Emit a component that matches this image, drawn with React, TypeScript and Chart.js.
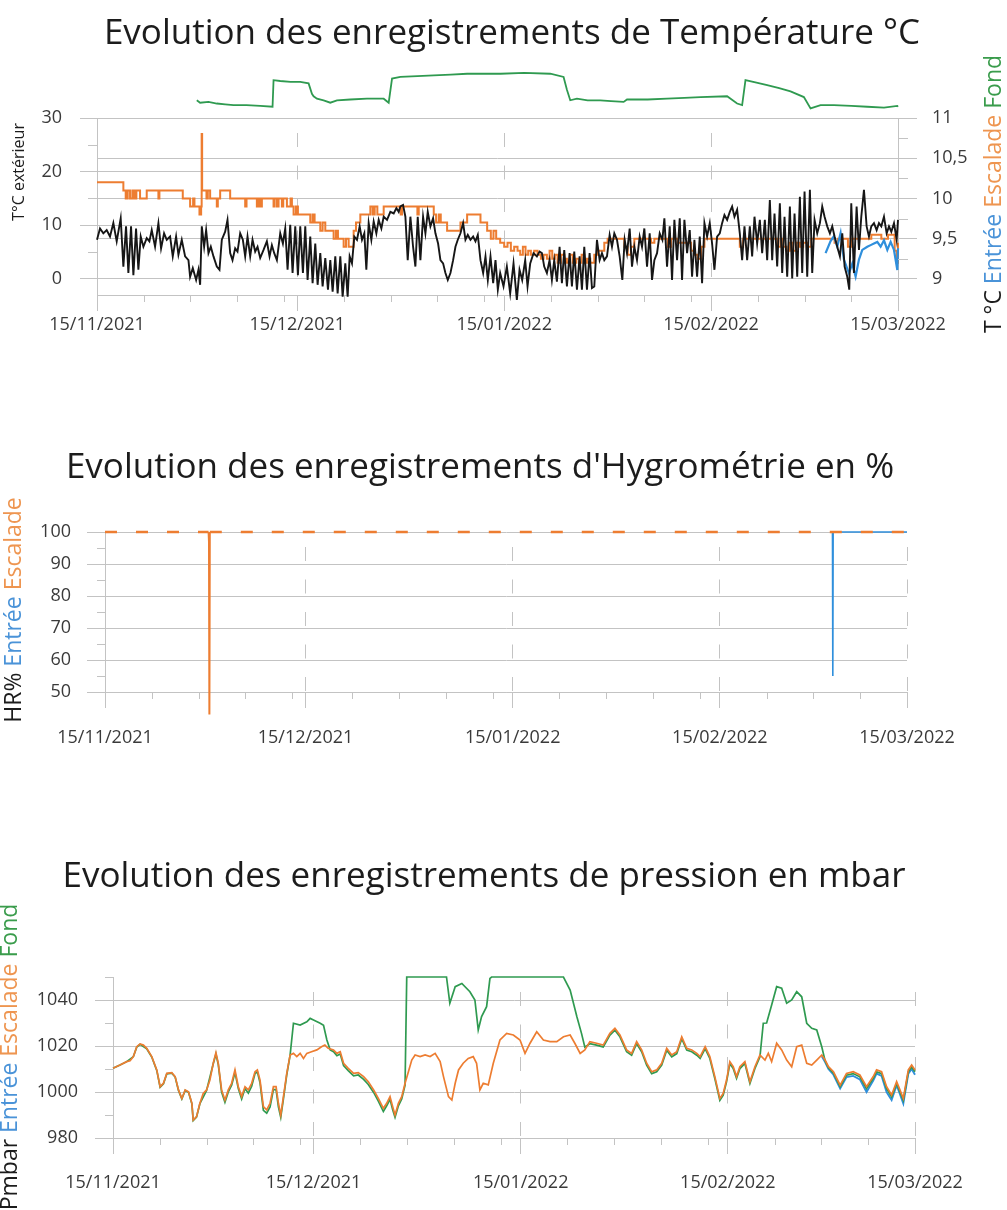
import React, { useEffect, useRef } from 'react';
import { Chart, registerables } from 'chart.js';

Chart.register(...registerables);

// ---------- shared axis data ----------
const MAJOR_DAYS = [0, 30, 61, 92, 120];
const MAJOR_LABELS = ['15/11/2021', '15/12/2021', '15/01/2022', '15/02/2022', '15/03/2022'];
const MINOR_DAYS = [7, 14, 21, 28, 37, 44, 51, 58, 68, 75, 82, 89, 99, 106, 113];

// ---------- temperature ----------
const T_LEFT_TICKS = [0, 10, 20, 30];
const T_LEFT_MINOR = [5, 15, 25];
const T_RIGHT_TICKS = [9, 9.5, 10, 10.5, 11];
const T_RIGHT_MINOR = [9.25, 9.75, 10.25, 10.75];

const tExterieur = [
  [0, 7.3], [0.45, 9.4], [0.95, 8.5], [1.45, 9.1], [1.95, 7.9], [2.45, 10.4], [2.95, 7.0], [3.55, 11.3], [3.95, 2.3],
  [4.35, 9.8], [4.7, 1.1], [5.1, 9.8], [5.45, 0.7], [5.85, 9.4], [6.2, 1.7], [6.55, 7.9], [6.95, 6.0], [7.45, 7.6],
  [7.85, 7.0], [8.2, 9.1], [8.7, 6.0], [9.2, 10.4], [9.6, 5.7], [10.05, 8.5], [10.45, 7.3], [10.95, 7.9], [11.35, 4.2],
  [11.85, 7.9], [12.2, 4.5], [12.7, 7.3], [13.2, 4.2], [13.7, 3.5], [13.95, 0.4], [14.35, 2.0], [14.85, -0.2], [15.2, 1.7],
  [15.45, -1.1], [15.7, 9.8], [16.05, 6.0], [16.35, 9.1], [16.7, 4.8], [17.05, 6.0], [17.45, 4.2], [17.95, 2.3], [18.35, 1.7],
  [18.7, 7.3], [19.2, 8.8], [19.55, 11.0], [19.95, 4.8], [20.3, 3.5], [20.7, 5.7], [21.05, 5.1], [21.45, 8.5], [21.85, 7.3],
  [22.2, 4.2], [22.55, 7.9], [22.95, 4.2], [23.3, 7.3], [23.7, 5.1], [24.05, 6.0], [24.45, 3.9], [24.95, 5.4], [25.45, 7.0],
  [25.85, 4.2], [26.2, 6.3], [26.55, 4.8], [26.95, 3.5], [27.45, 8.5], [27.85, 6.6], [28.2, 9.4], [28.55, 1.7], [28.95, 10.1],
  [29.3, 1.1], [29.7, 9.8], [30.1, 0.7], [30.45, 9.8], [30.85, 1.1], [31.2, 9.8], [31.55, -0.2], [31.95, 7.9], [32.3, -0.8],
  [32.7, 6.6], [33.05, -1.1], [33.45, 4.8], [33.8, -1.4], [34.2, 3.9], [34.6, -2.0], [34.95, 3.5], [35.3, -2.4], [35.7, 4.2],
  [36.05, -2.7], [36.45, 4.2], [36.8, -3.3], [37.2, 2.9], [37.55, -3.3], [37.85, 4.2], [38.2, 2.9], [38.55, 7.9], [38.95, 7.3],
  [39.35, 9.8], [39.7, 7.3], [40.05, 8.5], [40.35, 1.7], [40.7, 10.4], [41.1, 7.3], [41.45, 10.7], [41.85, 8.5], [42.2, 11.0],
  [42.6, 9.4], [42.95, 11.6], [43.45, 11.0], [43.95, 12.5], [44.45, 12.2], [44.85, 13.2], [45.2, 12.5], [45.45, 13.5],
  [45.85, 13.8], [46.2, 11.6], [46.55, 3.5], [46.95, 11.6], [47.35, 6.0], [47.7, 2.3], [48.05, 11.6], [48.45, 3.5],
  [48.85, 11.6], [49.2, 8.5], [49.55, 12.5], [49.95, 9.8], [50.35, 11.3], [50.7, 8.5], [51.1, 6.6], [51.45, 3.5], [51.85, 2.9],
  [52.2, 1.1], [52.55, -0.2], [52.95, 1.1], [53.35, 3.5], [53.7, 6.0], [54.05, 7.3], [54.45, 8.5], [54.85, 10.4], [55.2, 7.3],
  [55.55, 8.2], [55.95, 7.3], [56.35, 7.9], [56.7, 7.0], [57.05, 8.2], [57.45, 3.5], [57.85, 1.1], [58.2, 4.2], [58.55, -0.2],
  [58.95, 4.2], [59.35, -0.8], [59.7, 3.5], [60.05, -2.0], [60.4, 1.1], [60.9, -1.4], [61.4, 2.3], [61.9, -2.7], [62.4, 2.9],
  [62.9, -3.9], [63.3, 1.7], [63.7, -0.2], [64.15, 3.5], [64.5, -1.4], [64.9, 2.9], [65.4, 4.8], [65.9, 4.2], [66.3, 5.1],
  [66.65, 4.8], [67.0, 2.3], [67.4, 1.1], [67.8, 3.5], [68.15, -0.2], [68.5, 3.5], [68.9, -0.5], [69.3, 6.0], [69.65, -0.8],
  [70.0, 5.4], [70.4, -1.4], [70.8, 4.8], [71.15, -1.4], [71.5, 5.1], [71.9, -2.0], [72.3, 4.2], [72.65, -2.0], [73.0, 6.0],
  [73.4, -2.0], [73.8, 4.8], [74.15, -1.7], [74.5, -1.4], [74.9, 7.3], [75.3, 3.5], [75.65, 4.8], [76.0, 3.5], [76.4, 4.2],
  [76.8, 8.2], [77.15, 6.0], [77.5, 8.5], [77.9, 7.3], [78.3, 4.2], [78.7, -0.2], [79.05, 7.3], [79.4, 4.8], [79.8, 9.4],
  [80.15, 2.3], [80.5, 6.0], [80.9, 3.5], [81.3, 7.9], [81.65, 6.0], [82.0, 9.4], [82.4, 2.3], [82.8, 8.5], [83.15, -0.2],
  [83.5, 3.5], [83.9, 4.8], [84.3, 8.5], [84.7, 7.3], [85.0, 11.3], [85.4, 2.3], [85.8, 9.8], [86.15, -0.2], [86.5, 11.0],
  [86.9, 3.5], [87.3, 11.3], [87.65, -0.2], [88.0, 11.0], [88.4, 4.8], [88.8, 9.1], [89.15, 0.4], [89.5, 7.3], [89.9, 0.4],
  [90.3, 7.9], [90.65, -0.8], [91.0, 10.4], [91.4, 7.9], [91.8, 10.4], [92.15, 6.6], [92.5, 1.7], [92.9, 7.9], [93.3, 8.5],
  [93.65, 10.4], [94.0, 11.9], [94.4, 11.0], [94.8, 12.5], [95.15, 13.5], [95.5, 11.6], [95.9, 12.9], [96.3, 8.5], [96.65, 3.5],
  [97.0, 9.8], [97.4, 3.5], [97.8, 9.8], [98.15, 4.2], [98.5, 11.6], [98.9, 6.6], [99.3, 11.0], [99.65, 4.8], [100.05, 11.0],
  [100.4, 3.5], [100.8, 14.7], [101.15, 3.5], [101.5, 12.2], [101.9, 2.3], [102.3, 14.1], [102.65, 1.1], [103.0, 11.6],
  [103.4, 0.4], [103.8, 13.5], [104.15, 0.1], [104.5, 12.2], [104.9, 0.4], [105.3, 15.3], [105.65, 1.1], [106.0, 16.3],
  [106.4, 0.4], [106.8, 16.6], [107.15, 1.1], [107.5, 11.0], [107.9, 8.5], [108.3, 10.4], [108.65, 13.5], [109.0, 11.6],
  [109.4, 9.8], [109.8, 8.5], [110.15, 9.8], [110.5, 7.9], [110.9, 6.0], [111.3, 4.2], [111.65, 8.5], [112.0, 2.3],
  [112.4, 0.4], [112.7, -2.0], [113.0, 14.1], [113.4, 1.1], [113.8, 13.5], [114.15, 5.4], [114.5, 11.6], [114.9, 16.6],
  [115.3, 9.8], [115.65, 7.9], [116.0, 9.8], [116.4, 10.4], [116.8, 9.1], [117.15, 10.4], [117.5, 9.8], [117.9, 11.6],
  [118.3, 8.5], [118.65, 9.8], [119.0, 8.8], [119.4, 10.4], [119.8, 7.3], [120, 11.0],
];

const tEscalade = [
  [0, 10.2], [3.95, 10.1], [4.3, 10.0], [4.6, 10.1], [4.95, 10.0], [5.3, 10.1], [5.6, 10.0], [5.9, 10.1], [6.45, 10.0],
  [7.45, 10.1], [9.2, 10.0], [9.35, 10.1], [12.85, 10.0], [13.95, 9.9], [14.4, 10.0], [14.6, 9.9], [15.35, 9.8], [15.6, 9.9],
  [15.68, 10.8], [15.75, 10.1], [16.4, 10.0], [16.6, 10.1], [16.95, 10.0], [17.95, 9.9], [18.1, 10.0], [18.45, 10.1],
  [19.95, 10.0], [22.2, 9.9], [22.4, 10.0], [23.95, 9.9], [24.2, 10.0], [24.45, 9.9], [24.7, 10.0], [26.45, 9.9], [26.6, 10.0],
  [26.95, 9.9], [27.2, 10.0], [27.7, 9.9], [27.9, 10.0], [28.45, 9.9], [29.0, 10.0], [29.2, 9.9], [29.45, 9.8], [29.8, 9.9],
  [30.1, 9.8], [31.95, 9.7], [32.3, 9.8], [32.6, 9.7], [33.45, 9.6], [33.8, 9.7], [34.2, 9.6], [35.45, 9.5], [35.8, 9.6],
  [36.1, 9.5], [36.95, 9.4], [37.3, 9.5], [37.7, 9.4], [38.45, 9.6], [38.8, 9.7], [39.45, 9.8], [40.95, 9.9], [41.3, 9.8],
  [41.6, 9.9], [42.0, 9.8], [42.95, 9.9], [45.5, 9.8], [45.7, 9.9], [48.0, 9.8], [48.2, 9.9], [50.45, 9.8], [50.8, 9.7],
  [51.2, 9.8], [51.5, 9.7], [52.45, 9.6], [54.45, 9.7], [55.45, 9.8], [57.45, 9.7], [58.45, 9.6], [59.0, 9.5], [59.4, 9.6],
  [59.8, 9.5], [60.4, 9.45], [61.0, 9.4], [61.5, 9.45], [62.0, 9.35], [62.5, 9.4], [63.0, 9.35], [63.4, 9.3], [63.8, 9.4],
  [64.2, 9.3], [64.6, 9.35], [65.0, 9.3], [65.5, 9.35], [66.0, 9.3], [66.5, 9.25], [66.9, 9.3], [67.4, 9.25], [67.8, 9.35],
  [68.2, 9.25], [68.6, 9.3], [69.0, 9.2], [69.5, 9.3], [70.0, 9.25], [70.4, 9.2], [70.9, 9.3], [71.3, 9.2], [71.8, 9.25],
  [72.2, 9.2], [72.6, 9.3], [73.0, 9.2], [73.4, 9.25], [73.9, 9.2], [74.5, 9.3], [75.0, 9.35], [76.0, 9.45], [76.5, 9.5],
  [79.0, 9.4], [79.5, 9.3], [80.0, 9.4], [80.5, 9.5], [83.0, 9.45], [83.5, 9.5], [85.5, 9.4], [86.0, 9.5], [87.0, 9.45],
  [89.0, 9.35], [89.5, 9.3], [90.0, 9.25], [90.5, 9.4], [91.0, 9.5], [96.3, 9.4], [96.8, 9.5], [102.0, 9.4], [102.4, 9.5],
  [102.8, 9.4], [103.3, 9.35], [103.8, 9.45], [104.3, 9.35], [104.8, 9.45], [105.3, 9.4], [105.8, 9.45], [106.5, 9.4],
  [107.0, 9.5], [110.5, 9.45], [111.0, 9.5], [112.5, 9.4], [113.0, 9.5], [116.0, 9.55], [117.5, 9.5], [118.5, 9.55],
  [119.5, 9.35], [119.8, 9.2], [120, 9.45],
];

const tEntree = [
  [109.15, 9.32], [109.9, 9.47], [110.4, 9.53], [110.9, 9.4], [111.4, 9.57], [111.9, 9.24], [112.65, 9.07], [113.15, 9.19],
  [113.65, 9.03], [114.15, 9.24], [114.65, 9.36], [115.4, 9.4], [115.9, 9.42], [116.4, 9.44], [116.9, 9.46], [117.4, 9.4],
  [117.9, 9.48], [118.4, 9.36], [118.9, 9.46], [119.4, 9.36], [119.9, 9.11], [120, 9.38],
];

const tFond = [
  [14.95, 11.22], [15.45, 11.19], [16.7, 11.2], [17.95, 11.18], [19.2, 11.17], [20.45, 11.16], [22.4, 11.16], [24.45, 11.15],
  [26.3, 11.14], [26.45, 11.47], [27.45, 11.46], [29.0, 11.45], [30.45, 11.45], [31.7, 11.43], [32.2, 11.3], [32.45, 11.27],
  [32.95, 11.24], [33.95, 11.22], [34.95, 11.19], [35.95, 11.22], [37.95, 11.23], [40.45, 11.24], [42.95, 11.24],
  [43.7, 11.19], [44.2, 11.49], [45.45, 11.51], [48.0, 11.52], [50.45, 11.53], [53.0, 11.54], [55.45, 11.55], [58.0, 11.55],
  [60.45, 11.55], [64.0, 11.56], [67.9, 11.55], [69.9, 11.51], [70.4, 11.35], [70.9, 11.22], [71.9, 11.24], [73.5, 11.22],
  [75.4, 11.22], [77.0, 11.21], [78.9, 11.2], [79.4, 11.23], [82.5, 11.23], [85.4, 11.24], [88.0, 11.25], [90.4, 11.26],
  [94.4, 11.27], [95.9, 11.18], [96.65, 11.16], [97.15, 11.47], [98.8, 11.44], [100.4, 11.41], [102.2, 11.37],
  [103.9, 11.33], [105.9, 11.26], [106.9, 11.12], [108.4, 11.16], [110.4, 11.16], [113.0, 11.15], [115.4, 11.14],
  [117.9, 11.13], [119.9, 11.15], [120, 11.14],
];

// ---------- humidity ----------
const HR_TICKS = [50, 60, 70, 80, 90, 100];
const HR_MINOR = [55, 65, 75, 85, 95];
const hrEscalade = [[0, 100], [15.5, 100], [15.56, 97], [15.62, 43], [15.68, 100], [120, 100]];
const hrEntree = [[108.85, 100], [108.9, 55], [108.95, 100], [120, 100]];

// ---------- pressure ----------
const P_TICKS = [980, 1000, 1020, 1040];
const P_MINOR = [990, 1010, 1030, 1050];

const pEscalade = [
  [0, 1010.3], [1.05, 1011.7], [2.05, 1013.2], [2.55, 1013.6], [3.05, 1015.4], [3.55, 1019.7], [4.05, 1020.9], [4.55, 1020.4],
  [5.05, 1019.0], [5.8, 1015.4], [6.55, 1009.6], [7.05, 1002.3], [7.55, 1003.8], [8.05, 1008.1], [8.8, 1008.4], [9.3, 1006.7],
  [9.8, 1000.9], [10.3, 997.2], [10.8, 1000.9], [11.3, 1000.1], [11.8, 995.1], [12.0, 987.8], [12.5, 989.3], [13.0, 995.1],
  [13.5, 999.4], [14.0, 1000.9], [14.5, 1005.2], [15.0, 1012.5], [15.4, 1017.1], [15.75, 1012.5], [16.25, 1000.9],
  [16.75, 996.5], [17.25, 1000.9], [17.75, 1003.8], [18.25, 1009.6], [18.75, 1002.3], [19.25, 998.0], [19.75, 1002.3],
  [20.25, 1000.9], [20.75, 1003.8], [21.25, 1008.8], [21.6, 1009.6], [22.0, 1005.2], [22.5, 993.6], [23.0, 992.2],
  [23.5, 995.1], [24.0, 1002.3], [24.4, 1002.3], [24.75, 995.1], [25.1, 990.0], [25.5, 998.0], [26.0, 1008.1], [26.5, 1016.1],
  [27.0, 1016.8], [27.5, 1015.4], [28.0, 1016.8], [28.5, 1014.6], [29.0, 1016.8], [29.7, 1017.5], [30.5, 1018.3],
  [31.2, 1019.7], [31.7, 1020.4], [32.2, 1019.0], [33.0, 1018.3], [33.5, 1016.8], [34.0, 1017.5], [34.5, 1012.5],
  [35.2, 1010.3], [36.0, 1008.1], [36.7, 1008.4], [37.5, 1006.7], [38.2, 1004.5], [39.0, 1000.9], [39.7, 997.2],
  [40.45, 992.9], [40.95, 995.1], [41.45, 998.0], [41.85, 993.6], [42.2, 990.0], [42.7, 995.1], [43.2, 998.0], [43.7, 1003.8],
  [44.2, 1008.8], [44.7, 1013.9], [45.2, 1016.1], [45.95, 1015.4], [46.7, 1016.1], [47.45, 1015.4], [48.2, 1016.8],
  [48.95, 1013.2], [49.45, 1006.7], [50.2, 998.0], [50.7, 996.5], [51.2, 1003.8], [51.7, 1009.6], [52.4, 1012.5],
  [53.15, 1014.6], [53.9, 1015.4], [54.4, 1012.5], [54.9, 1000.9], [55.4, 1003.8], [56.15, 1003.1], [56.9, 1012.5],
  [57.9, 1022.6], [58.9, 1025.5], [59.9, 1024.8], [60.9, 1022.6], [61.65, 1016.8], [62.4, 1021.2], [63.4, 1026.2],
  [64.4, 1022.6], [65.4, 1021.9], [66.4, 1021.9], [67.4, 1024.0], [68.4, 1024.8], [69.1, 1021.2], [69.9, 1016.8],
  [70.6, 1018.3], [71.35, 1021.9], [72.35, 1021.2], [73.35, 1020.4], [74.35, 1025.5], [75.1, 1027.7], [75.85, 1024.8],
  [76.85, 1018.3], [77.6, 1016.8], [78.35, 1021.9], [79.1, 1018.3], [79.85, 1012.5], [80.6, 1008.8], [81.35, 1009.6],
  [82.1, 1012.5], [82.85, 1019.0], [83.6, 1016.1], [84.35, 1017.5], [85.1, 1024.0], [85.85, 1019.0], [86.6, 1018.3],
  [87.35, 1016.8], [87.85, 1015.4], [88.6, 1019.7], [89.3, 1015.4], [90.05, 1006.7], [90.8, 997.2], [91.3, 999.4],
  [91.8, 1005.2], [92.3, 1013.2], [92.8, 1011.0], [93.3, 1006.7], [93.8, 1011.0], [94.55, 1013.2], [95.3, 1004.5],
  [96.05, 1011.0], [96.8, 1016.1], [97.55, 1013.9], [98.05, 1016.8], [98.55, 1013.2], [99.3, 1021.2], [100.05, 1018.3],
  [100.8, 1013.9], [101.55, 1011.0], [102.3, 1019.7], [103.05, 1020.4], [103.8, 1012.5], [104.55, 1011.7], [105.3, 1013.9],
  [106.05, 1016.1], [106.55, 1013.9], [107.05, 1011.0], [107.8, 1008.8], [108.8, 1003.0], [109.75, 1008.1],
  [110.75, 1008.8], [111.75, 1007.4], [112.75, 1002.3], [113.75, 1006.7], [114.25, 1009.6], [115.0, 1008.8],
  [115.75, 1002.3], [116.5, 998.7], [117.25, 1004.5], [117.75, 1000.9], [118.25, 997.2], [119.0, 1009.6], [119.5, 1011.7],
  [120, 1009.6],
];

const pFond = [
  [0, 1010.3], [1.05, 1011.7], [2.05, 1013.2], [3.05, 1015.4], [3.55, 1019.5], [4.05, 1020.7], [5.05, 1018.8], [5.8, 1015.2],
  [6.55, 1009.4], [7.05, 1002.1], [7.55, 1003.6], [8.05, 1007.9], [8.8, 1008.2], [9.3, 1006.5], [9.8, 1000.7], [10.3, 997.0],
  [10.8, 1000.7], [11.3, 999.9], [11.8, 994.9], [12.0, 987.6], [12.5, 989.1], [13.0, 994.9], [14.0, 1000.7], [15.0, 1012.3],
  [15.4, 1016.5], [15.75, 1012.0], [16.25, 1000.0], [16.75, 995.5], [17.25, 1000.0], [17.75, 1003.0], [18.25, 1008.5],
  [18.75, 1001.5], [19.25, 997.0], [19.75, 1001.5], [20.25, 999.5], [20.75, 1002.5], [21.25, 1008.0], [21.6, 1008.8],
  [22.0, 1004.0], [22.5, 992.0], [23.0, 990.8], [23.5, 993.5], [24.0, 1001.0], [24.4, 1001.0], [24.75, 993.5], [25.1, 989.0],
  [25.5, 997.0], [26.0, 1007.5], [26.5, 1016.0], [27.0, 1029.9], [28.0, 1029.1], [29.0, 1030.5], [29.5, 1032.0],
  [30.0, 1031.3], [31.0, 1029.9], [31.5, 1029.0], [32.0, 1022.6], [32.5, 1018.3], [33.0, 1017.5], [33.5, 1015.8],
  [34.0, 1016.5], [34.5, 1011.5], [35.2, 1009.3], [36.0, 1007.0], [36.7, 1007.4], [37.5, 1005.5], [38.2, 1003.3],
  [39.0, 999.8], [39.7, 996.0], [40.45, 991.5], [40.95, 994.0], [41.45, 996.8], [41.85, 992.3], [42.2, 989.0], [42.7, 994.0],
  [43.2, 997.0], [43.7, 1003.0], [43.95, 1050], [49.9, 1050], [50.4, 1038.6], [51.2, 1045.8], [52.2, 1047.2],
  [53.4, 1043.6], [54.15, 1040.0], [54.65, 1027.0], [55.15, 1032.8], [55.9, 1037.1], [56.4, 1049.4], [56.65, 1050],
  [67.4, 1050], [68.4, 1044.3], [69.4, 1032.8], [70.1, 1025.5], [70.6, 1019.5], [71.35, 1021.0], [72.35, 1020.4],
  [73.35, 1019.6], [74.35, 1024.7], [75.1, 1026.9], [75.85, 1024.0], [76.85, 1017.5], [77.6, 1016.0], [78.35, 1021.1],
  [79.1, 1017.5], [79.85, 1011.7], [80.6, 1008.0], [81.35, 1008.8], [82.1, 1011.7], [82.85, 1018.2], [83.6, 1015.3],
  [84.35, 1016.7], [85.1, 1023.2], [85.85, 1018.2], [86.6, 1017.5], [87.35, 1016.0], [87.85, 1014.6], [88.6, 1018.9],
  [89.3, 1014.6], [90.05, 1005.9], [90.8, 996.4], [91.3, 998.6], [91.8, 1004.4], [92.3, 1012.4], [92.8, 1010.2],
  [93.3, 1005.9], [93.8, 1010.2], [94.55, 1012.4], [95.3, 1003.7], [96.05, 1010.2], [96.8, 1015.3], [97.3, 1029.9],
  [97.8, 1030.0], [98.55, 1037.8], [99.3, 1045.8], [100.05, 1045.1], [100.8, 1038.6], [101.55, 1040.0], [102.3, 1043.6],
  [103.05, 1041.4], [103.8, 1029.9], [104.55, 1027.7], [105.3, 1027.0], [106.05, 1019.7], [106.55, 1013.5],
  [107.05, 1010.5], [107.8, 1008.2], [108.8, 1002.3], [109.75, 1007.3], [110.75, 1008.0], [111.75, 1006.6],
  [112.75, 1001.5], [113.75, 1005.9], [114.25, 1008.8], [115.0, 1008.0], [115.75, 1001.5], [116.5, 997.9],
  [117.25, 1003.7], [117.75, 1000.1], [118.25, 996.4], [119.0, 1008.8], [119.5, 1010.9], [120, 1008.8],
];

const pEntree = [
  [106.05, 1015.5], [106.55, 1013.0], [107.05, 1010.0], [107.8, 1007.5], [108.8, 1001.5], [109.75, 1006.5],
  [110.75, 1007.0], [111.75, 1005.5], [112.75, 1000.0], [113.75, 1005.0], [114.25, 1008.0], [115.0, 1007.0],
  [115.75, 1000.0], [116.5, 996.5], [117.25, 1003.0], [117.75, 999.0], [118.25, 995.0], [119.0, 1008.0], [119.5, 1010.0],
  [120, 1007.5],
];

// ---------- styling ----------
const FONT = '"Open Sans", "Noto Sans", sans-serif';
const GRID = '#c3c3c3';
const TICK_TXT = '#3a3a3a';
const TITLE_TXT = '#1c1c1c';
const BLACK = '#161616';
const ORANGE = '#ed7d31';
const BLUE = '#2f8fdc';
const GREEN = '#2f9a50';
const TXT_BLUE = '#4a93d8';
const TXT_ORANGE = '#ee9550';
const TXT_GREEN = '#3a9c4c';

const toXY = (pts) => pts.map(([x, y]) => ({ x, y }));
const comma = (v) => String(v).replace('.', ',');

function xScale(height, pad) {
  return {
    type: 'linear', position: 'bottom', min: 0, max: 120,
    afterBuildTicks: (s) => { s.ticks = MAJOR_DAYS.map((v) => ({ value: v })); },
    afterFit: (s) => { s.height = height; s.paddingLeft = 0; s.paddingRight = 0; },
    ticks: {
      autoSkip: false, maxRotation: 0, minRotation: 0, padding: pad, color: TICK_TXT,
      font: { family: FONT, size: 18 },
      callback: (_v, i) => MAJOR_LABELS[i],
    },
    grid: { color: GRID, lineWidth: 1, tickLength: 16, tickColor: GRID, drawTicks: true },
    border: { display: true, color: GRID, width: 1, dash: [14, 18.5], dashOffset: 17.5 },
  };
}

function yScale(o) {
  return {
    type: 'linear', position: o.position, min: o.min, max: o.max,
    afterBuildTicks: (s) => { s.ticks = o.ticks.map((v) => ({ value: v })); },
    afterFit: (s) => { s.width = o.width; s.paddingTop = 0; s.paddingBottom = 0; },
    ticks: {
      color: TICK_TXT, font: { family: FONT, size: 18 }, padding: o.pad,
      callback: (v) => (o.fmt ? o.fmt(v) : String(v)),
    },
    grid: { color: GRID, lineWidth: 1, tickLength: o.tickLength, tickColor: GRID },
    border: { display: true, color: GRID, width: 1 },
  };
}

function makeExtras(cfg) {
  return {
    id: 'extras',
    afterDraw(chart) {
      const ctx = chart.ctx;
      ctx.save();
      ctx.strokeStyle = GRID;
      ctx.lineWidth = 1;
      cfg.minor.forEach((m) => {
        const s = chart.scales[m.axis];
        m.values.forEach((v) => {
          const p = Math.round(s.getPixelForValue(v)) + 0.5;
          ctx.beginPath();
          if (m.side === 'bottom') { ctx.moveTo(p, s.top); ctx.lineTo(p, s.top + m.len); }
          else if (m.side === 'left') { ctx.moveTo(s.right - m.len, p); ctx.lineTo(s.right, p); }
          else { ctx.moveTo(s.left, p); ctx.lineTo(s.left + m.len, p); }
          ctx.stroke();
        });
      });
      // main title
      ctx.fillStyle = TITLE_TXT;
      ctx.font = `${cfg.title.size}px ${FONT}`;
      ctx.textAlign = 'center';
      ctx.textBaseline = 'alphabetic';
      ctx.fillText(cfg.title.text, cfg.title.x, cfg.title.y);
      // rotated axis titles (multi-colour)
      cfg.vtitles.forEach((t) => {
        ctx.save();
        ctx.translate(t.x, t.y);
        ctx.rotate(-Math.PI / 2);
        ctx.font = `${t.size}px ${FONT}`;
        ctx.textAlign = 'left';
        ctx.textBaseline = 'middle';
        const total = t.parts.reduce((a, [s]) => a + ctx.measureText(s).width, 0);
        let x = -total / 2;
        t.parts.forEach(([s, c]) => {
          ctx.fillStyle = c;
          ctx.fillText(s, x, 0);
          x += ctx.measureText(s).width;
        });
        ctx.restore();
      });
      ctx.restore();
    },
  };
}

const baseOptions = (padding) => ({
  responsive: false,
  maintainAspectRatio: false,
  animation: false,
  events: [],
  layout: { padding },
  plugins: { legend: { display: false }, tooltip: { enabled: false }, title: { display: false } },
  elements: { point: { radius: 0 }, line: { tension: 0 } },
});

function buildTemp() {
  return {
    type: 'line',
    data: {
      datasets: [
        { label: 'T°C extérieur', data: toXY(tExterieur), yAxisID: 'y', borderColor: BLACK, borderWidth: 1.9, clip: false, pointRadius: 0 },
        { label: 'Entrée', data: toXY(tEntree), yAxisID: 'y2', borderColor: BLUE, borderWidth: 2.2, clip: false, pointRadius: 0 },
        { label: 'Escalade', data: toXY(tEscalade), yAxisID: 'y2', borderColor: ORANGE, borderWidth: 2, stepped: true, clip: false, pointRadius: 0 },
        { label: 'Fond', data: toXY(tFond), yAxisID: 'y2', borderColor: GREEN, borderWidth: 1.8, clip: false, pointRadius: 0 },
      ],
    },
    options: {
      ...baseOptions({ top: 118, left: 0, right: 0, bottom: 0 }),
      scales: {
        x: xScale(55, 3),
        y: yScale({ position: 'left', min: -3, max: 30, ticks: T_LEFT_TICKS, width: 97, tickLength: 17, pad: 18 }),
        y2: yScale({ position: 'right', min: 8.8, max: 11, ticks: T_RIGHT_TICKS, width: 109, tickLength: 19, pad: 15, fmt: comma }),
      },
    },
    plugins: [makeExtras({
      title: { text: 'Evolution des enregistrements de Température °C', x: 512, y: 44, size: 35 },
      vtitles: [
        { x: 19, y: 172, size: 16, parts: [['T°C extérieur', TITLE_TXT]] },
        { x: 994, y: 194, size: 23, parts: [['T °C ', TITLE_TXT], ['Entrée ', TXT_BLUE], ['Escalade ', TXT_ORANGE], ['Fond', TXT_GREEN]] },
      ],
      minor: [
        { axis: 'x', side: 'bottom', len: 7, values: MINOR_DAYS },
        { axis: 'y', side: 'left', len: 9, values: T_LEFT_MINOR },
        { axis: 'y2', side: 'right', len: 10, values: T_RIGHT_MINOR },
      ],
    })],
  };
}

function buildHR() {
  return {
    type: 'line',
    data: {
      datasets: [
        {
          label: 'Escalade', data: toXY(hrEscalade), borderColor: ORANGE, borderWidth: 2.6, borderDash: [12, 19], clip: false, pointRadius: 0,
          segment: {
            borderDash: (c) => (Math.abs(c.p1.parsed.y - c.p0.parsed.y) > 1 ? [] : undefined),
            borderWidth: (c) => (Math.abs(c.p1.parsed.y - c.p0.parsed.y) > 1 ? 2 : undefined),
          },
        },
        { label: 'Entrée', data: toXY(hrEntree), borderColor: BLUE, borderWidth: 1.6, clip: false, pointRadius: 0 },
      ],
    },
    options: {
      ...baseOptions({ top: 132, left: 0, right: 100, bottom: 0 }),
      scales: {
        x: xScale(88, 19),
        y: yScale({ position: 'left', min: 50, max: 100, ticks: HR_TICKS, width: 105, tickLength: 18, pad: 16 }),
      },
    },
    plugins: [makeExtras({
      title: { text: "Evolution des enregistrements d'Hygrométrie en %", x: 480, y: 78, size: 35 },
      vtitles: [{ x: 14, y: 210, size: 23, parts: [['HR% ', TITLE_TXT], ['Entrée ', TXT_BLUE], ['Escalade', TXT_ORANGE]] }],
      minor: [
        { axis: 'x', side: 'bottom', len: 7, values: MINOR_DAYS },
        { axis: 'y', side: 'left', len: 8, values: HR_MINOR },
      ],
    })],
  };
}

function buildP() {
  return {
    type: 'line',
    data: {
      datasets: [
        { label: 'Escalade', data: toXY(pEscalade), borderColor: ORANGE, borderWidth: 1.7, clip: false, pointRadius: 0 },
        { label: 'Fond', data: toXY(pFond), borderColor: GREEN, borderWidth: 1.7, clip: false, pointRadius: 0 },
        { label: 'Entrée', data: toXY(pEntree), borderColor: BLUE, borderWidth: 1.9, clip: false, pointRadius: 0 },
      ],
    },
    options: {
      ...baseOptions({ top: 177, left: 0, right: 92, bottom: 0 }),
      scales: {
        x: xScale(72, 18),
        y: yScale({ position: 'left', min: 980, max: 1050, ticks: P_TICKS, width: 113, tickLength: 18, pad: 17 }),
      },
    },
    plugins: [makeExtras({
      title: { text: 'Evolution des enregistrements de pression en mbar', x: 484, y: 87, size: 35 },
      vtitles: [{ x: 10, y: 257, size: 23, parts: [['Pmbar ', TITLE_TXT], ['Entrée ', TXT_BLUE], ['Escalade ', TXT_ORANGE], ['Fond', TXT_GREEN]] }],
      minor: [
        { axis: 'x', side: 'bottom', len: 7, values: MINOR_DAYS },
        { axis: 'y', side: 'left', len: 8, values: P_MINOR },
      ],
    })],
  };
}

function ChartCanvas({ top, height, build }) {
  const ref = useRef(null);
  useEffect(() => {
    const chart = new Chart(ref.current, build());
    return () => chart.destroy();
  }, []);
  return (
    <canvas
      ref={ref}
      width={1007}
      height={height}
      style={{ position: 'absolute', left: 0, top, width: 1007, height, display: 'block' }}
    />
  );
}

export default function App() {
  return (
    <div style={{ position: 'absolute', left: 0, top: 0, width: 1007, height: 1210, background: '#ffffff', overflow: 'hidden' }}>
      <ChartCanvas top={0} height={350} build={buildTemp} />
      <ChartCanvas top={400} height={380} build={buildHR} />
      <ChartCanvas top={800} height={410} build={buildP} />
    </div>
  );
}
